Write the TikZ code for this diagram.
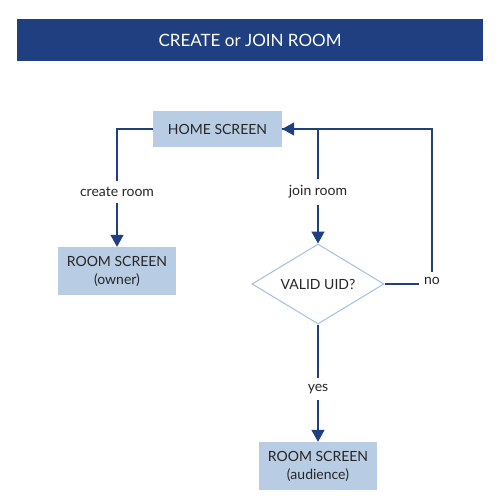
\documentclass[tikz,border=0pt]{standalone}
\usepackage{fontspec}
\setmainfont{Lato}
\usetikzlibrary{shapes.geometric,arrows.meta}
\definecolor{navy}{HTML}{1F3F80}
\definecolor{paleblue}{HTML}{B8CDE4}
\definecolor{edgeblue}{HTML}{A3C0E2}
\tikzset{
  screen/.style={rectangle, fill=paleblue, align=center, font=\fontsize{14}{18}\selectfont, text=black!85},
  decision/.style={diamond, draw=edgeblue, line width=1pt, fill=white, minimum width=132pt, minimum height=80pt, inner sep=0pt, aspect=2, font=\fontsize{14}{18}\selectfont, text=black!85},
  choice/.style={fill=white, inner sep=6pt, font=\fontsize{14}{18}\selectfont, text=black!85},
  line/.style={draw=navy, line width=1.6pt},
  arrow/.style={line, -{Triangle[width=13pt,length=12pt]}}
}
\begin{document}
\begin{tikzpicture}[x=1pt,y=-1pt]
    \useasboundingbox (0,0) rectangle (501,500);
    \node[rectangle, fill=navy, minimum width=466pt, minimum height=42pt, text=white, font=\fontsize{17}{20}\selectfont] (title) at (250,40) {CREATE or JOIN ROOM};
    \node[screen, minimum width=129pt, minimum height=36pt] (home) at (217.5,129) {HOME SCREEN};
    \node[screen, minimum width=118pt, minimum height=48pt] (owner) at (117,271) {ROOM SCREEN\\(owner)};
    \node[decision] (uid) at (318,284) {VALID UID?};
    \node[screen, minimum width=118pt, minimum height=48pt] (audience) at (318,466) {ROOM SCREEN\\(audience)};
    \node[choice] (create) at (117,192) {create room};
    \node[choice] (join) at (318,192) {join room};
    \node[choice, inner sep=5pt] (no) at (432,281) {no};
    \node[choice] (yes) at (318,389) {yes};
    \draw[line] (home.west) -| (create.north);
    \draw[arrow] (create.south) -- (owner.north);
    \draw[line] (join.north) |- (home.east);
    \draw[arrow] (join.south) -- (uid.north);
    \draw[line] (uid.east) -- (no.west |- uid.east);
    \draw[arrow] (no.north) |- (home.east);
    \draw[line] (uid.south) -- (yes.north);
    \draw[arrow] (yes.south) -- (audience.north);
\end{tikzpicture}
\end{document}
